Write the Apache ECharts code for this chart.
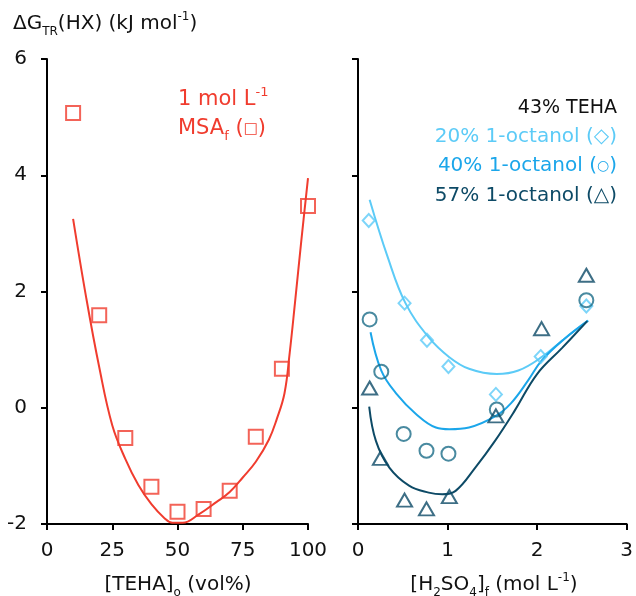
<!DOCTYPE html>
<html lang="en">
<head>
<meta charset="UTF-8">
<title>Delta G transfer</title>
<script src="https://cdn.jsdelivr.net/npm/echarts@6/dist/echarts.min.js"></script>
<style>
  html, body { margin: 0; padding: 0; background: #fff; }
  #main { width: 636px; height: 596px; }
</style>
</head>
<body>
<div id="main"></div>
<script>
// left panel: 1 mol/L MSA, TEHA content varied
var tehaX = [10, 20, 30, 40, 50, 60, 70, 80, 90, 100];
var tehaY = [5.07, 1.59, -0.52, -1.36, -1.79, -1.74, -1.43, -0.5, 0.67, 3.47];
var tehaFit = [[10, 3.25], [15, 1.9], [20, 0.7], [25, -0.3], [30, -0.88], [35, -1.33], [40, -1.66],
  [45, -1.9], [48, -1.98], [52, -1.98], [58, -1.84], [65, -1.62], [70, -1.45], [75, -1.2],
  [80, -0.93], [85, -0.55], [88, -0.2], [91, 0.25], [93, 0.95], [95, 1.8], [97.5, 2.9], [100, 3.95]];

// right panel: 43% TEHA, H2SO4 varied
var oct20X = [0.12, 0.52, 0.77, 1.01, 1.54, 2.04, 2.55];
var oct20Y = [3.22, 1.8, 1.16, 0.71, 0.23, 0.88, 1.75];
var oct40X = [0.13, 0.26, 0.51, 0.765, 1.01, 1.55, 2.55];
var oct40Y = [1.52, 0.62, -0.45, -0.74, -0.79, -0.03, 1.85];
var oct57X = [0.13, 0.25, 0.52, 0.765, 1.02, 1.54, 2.05, 2.55];
var oct57Y = [0.34, -0.87, -1.59, -1.74, -1.53, -0.14, 1.36, 2.28];

var fit20 = [[0.13, 3.58], [0.33, 2.6], [0.53, 1.8], [0.79, 1.21], [1.02, 0.87], [1.24, 0.67],
  [1.55, 0.58], [1.79, 0.64], [2.05, 0.87], [2.3, 1.18], [2.57, 1.5]];
var fit40 = [[0.14, 1.3], [0.26, 0.64], [0.43, 0.24], [0.65, -0.11], [0.87, -0.34], [1.02, -0.37],
  [1.24, -0.34], [1.53, -0.15], [1.71, 0.08], [1.9, 0.47], [2.05, 0.81], [2.3, 1.18], [2.57, 1.5]];
var fit57 = [[0.125, 0.02], [0.2, -0.57], [0.35, -1.03], [0.57, -1.34], [0.79, -1.46], [0.94, -1.49],
  [1.09, -1.43], [1.31, -1.03], [1.53, -0.57], [1.75, -0.05], [2.0, 0.58], [2.28, 1.03], [2.56, 1.49]];

var RED = '#f03c2e';
var LIGHT = '#5ccbf7';
var MID = '#1ba6ea';
var CIRC = '#1b6d88';
var DARK = '#0d4a66';
var FONT = 'DejaVu Sans';
var TICK_FONT = { color: '#111', fontSize: 20, fontFamily: FONT };

function pairs(xs, ys) {
  return xs.map(function (x, i) { return [x, ys[i]]; });
}

function axisX(idx, max, interval) {
  return {
    type: 'value', gridIndex: idx, min: 0, max: max, interval: interval,
    axisLine: { onZero: false, lineStyle: { color: '#000', width: 2 } },
    axisTick: { length: 6, lineStyle: { color: '#000', width: 2 } },
    axisLabel: Object.assign({ margin: 17 }, TICK_FONT),
    splitLine: { show: false }
  };
}

function axisY(idx, labels) {
  return {
    type: 'value', gridIndex: idx, min: -2, max: 6, interval: 2,
    axisLine: { show: true, lineStyle: { color: '#000', width: 2 } },
    axisTick: { show: true, length: 6, lineStyle: { color: '#000', width: 2 } },
    axisLabel: Object.assign({ show: labels, margin: 20 }, TICK_FONT),
    splitLine: { show: false }
  };
}

function fitLine(idx, data, color) {
  return {
    type: 'line', xAxisIndex: idx, yAxisIndex: idx, data: data, smooth: 0.4,
    showSymbol: false, lineStyle: { color: color, width: 2 }, z: 2, silent: true
  };
}

function marks(idx, data, symbol, size, color) {
  return {
    type: 'scatter', xAxisIndex: idx, yAxisIndex: idx, data: data, symbol: symbol, symbolSize: size,
    itemStyle: { color: 'rgba(0,0,0,0)', borderColor: color, borderWidth: 2 }, z: 3
  };
}

function label(x, y, text, color, align, size) {
  size = size || 18;
  var small = Math.round(size * 0.62);
  return {
    type: 'text', x: x, y: y,
    style: {
      text: text, fill: color, fontSize: size, fontFamily: FONT, align: align || 'left',
      verticalAlign: 'middle',
      rich: {
        sub: { fontSize: small, verticalAlign: 'bottom', lineHeight: small, fill: color, fontFamily: FONT },
        sup: { fontSize: small, verticalAlign: 'top', lineHeight: small, fill: color, fontFamily: FONT },
        sym: { fontSize: Math.round(size * 0.7), lineHeight: size + 7, fill: color, fontFamily: FONT },
        n: { fontSize: size, lineHeight: size + 7, fill: color, fontFamily: FONT }
      }
    }
  };
}

var chart = echarts.init(document.getElementById('main'));
chart.setOption({
  animation: false,
  grid: [
    { left: 47, top: 59, width: 261, height: 465 },
    { left: 358, top: 59, width: 272, height: 465 }
  ],
  xAxis: [axisX(0, 100, 25), axisX(1, 3, 1)],
  yAxis: [axisY(0, true), axisY(1, false)],
  series: [
    fitLine(0, tehaFit, RED),
    marks(0, pairs(tehaX, tehaY), 'rect', 14, RED),
    fitLine(1, fit20, LIGHT),
    fitLine(1, fit40, MID),
    fitLine(1, fit57, DARK),
    marks(1, pairs(oct20X, oct20Y), 'diamond', [12, 13], LIGHT),
    marks(1, pairs(oct40X, oct40Y), 'circle', 14, CIRC),
    marks(1, pairs(oct57X, oct57Y), 'triangle', [15, 13], DARK)
  ],
  graphic: [
    label(13, 24, '{n|ΔG}{sub|TR}{n|(HX) (kJ mol}{sup|-1}{n|)}', '#111', 'left', 20),
    label(178, 100, '{n|1 mol L}{sup|-1}', RED, 'left', 21),
    label(178, 129, '{n|MSA}{sub|f}{n| (}{sym|□}{n|)}', RED, 'left', 21),
    label(617, 108, '{n|43% TEHA}', '#111', 'right', 19),
    label(617, 137, '{n|20% 1-octanol (◇)}', LIGHT, 'right', 20),
    label(617, 166, '{n|40% 1-octanol (}{sym|○}{n|)}', MID, 'right', 20),
    label(617, 196, '{n|57% 1-octanol (△)}', DARK, 'right', 20),
    label(178, 585, '{n|[TEHA]}{sub|o}{n| (vol%)}', '#111', 'center', 20),
    label(494, 585, '{n|[H}{sub|2}{n|SO}{sub|4}{n|]}{sub|f}{n| (mol L}{sup|-1}{n|)}', '#111', 'center', 20)
  ]
});
</script>
</body>
</html>
